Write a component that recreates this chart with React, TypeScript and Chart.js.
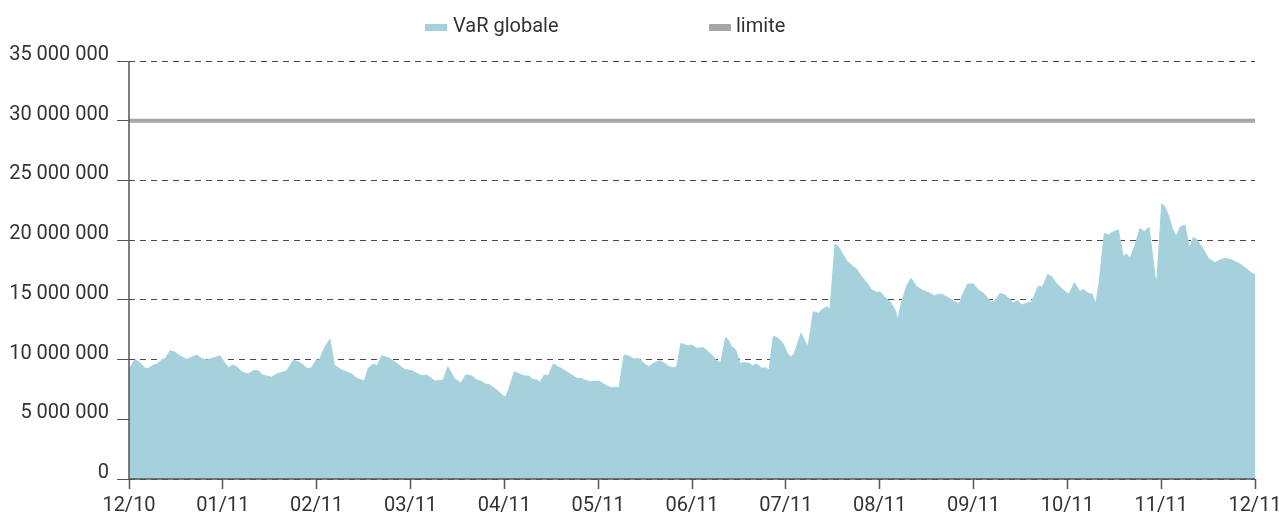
import React, { useEffect, useRef } from "react";
import { Chart, registerables } from "chart.js";

Chart.register(...registerables);

// x positions in months since 12/10 (0 = 12/10, 12 = 12/11)
const monthPos: number[] = [
  0, 0.064, 0.117, 0.171, 0.206, 0.259, 0.295, 0.349, 0.384, 0.437, 0.49, 0.544, 0.615, 0.668, 0.722, 0.775,
  0.828, 0.881, 0.97, 1.023, 1.058, 1.101, 1.148, 1.201, 1.271, 1.325, 1.378, 1.421, 1.521, 1.574, 1.627,
  1.681, 1.751, 1.822, 1.905, 1.947, 2.0, 2.025, 2.081, 2.142, 2.188, 2.267, 2.373, 2.427, 2.508, 2.55,
  2.604, 2.646, 2.693, 2.763, 2.853, 2.934, 3.013, 3.119, 3.173, 3.261, 3.35, 3.397, 3.467, 3.538, 3.588,
  3.652, 3.706, 3.759, 3.802, 3.837, 3.919, 3.989, 4.015, 4.05, 4.106, 4.167, 4.22, 4.263, 4.298, 4.345,
  4.38, 4.426, 4.469, 4.522, 4.575, 4.647, 4.718, 4.771, 4.817, 4.878, 4.931, 5.009, 5.073, 5.126, 5.222,
  5.276, 5.329, 5.375, 5.411, 5.446, 5.492, 5.542, 5.588, 5.659, 5.705, 5.755, 5.801, 5.837, 5.883, 5.926,
  5.961, 5.997, 6.05, 6.121, 6.174, 6.227, 6.263, 6.306, 6.359, 6.387, 6.423, 6.466, 6.512, 6.558, 6.608,
  6.643, 6.69, 6.743, 6.786, 6.821, 6.867, 6.92, 6.973, 7.02, 7.055, 7.091, 7.162, 7.223, 7.24, 7.293,
  7.346, 7.389, 7.436, 7.471, 7.524, 7.559, 7.613, 7.649, 7.719, 7.756, 7.809, 7.862, 7.915, 7.969, 8.004,
  8.057, 8.111, 8.164, 8.193, 8.235, 8.288, 8.334, 8.395, 8.465, 8.537, 8.583, 8.625, 8.678, 8.732, 8.785,
  8.846, 8.892, 8.939, 8.998, 9.052, 9.105, 9.187, 9.222, 9.283, 9.336, 9.425, 9.471, 9.514, 9.567, 9.621,
  9.691, 9.734, 9.791, 9.834, 9.887, 9.957, 10.018, 10.075, 10.135, 10.17, 10.224, 10.266, 10.302, 10.338,
  10.394, 10.437, 10.49, 10.544, 10.597, 10.633, 10.668, 10.722, 10.775, 10.821, 10.871, 10.935, 10.953,
  11.006, 11.034, 11.077, 11.119, 11.159, 11.201, 11.254, 11.3, 11.343, 11.375, 11.45, 11.503, 11.574,
  11.646, 11.688, 11.752, 11.84, 11.906, 11.958, 12.0,
];

// VaR globale, in millions
const varGlobaleM: number[] = [
  9.2, 10.0, 9.74, 9.27, 9.27, 9.54, 9.6, 9.96, 10.05, 10.74, 10.63, 10.3, 10.02, 10.19, 10.38, 10.1,
  9.96, 10.1, 10.32, 9.69, 9.32, 9.54, 9.4, 8.98, 8.79, 9.07, 9.07, 8.71, 8.52, 8.79, 8.93,
  9.04, 9.96, 9.74, 9.24, 9.32, 10.02, 9.91, 10.94, 11.7, 9.54, 9.13, 8.79, 8.43, 8.2, 9.27,
  9.63, 9.49, 10.32, 10.16, 9.69, 9.18, 9.07, 8.65, 8.71, 8.2, 8.29, 9.4, 8.43, 8.01, 8.71,
  8.62, 8.29, 8.15, 7.93, 7.93, 7.45, 6.95, 6.89, 7.59, 8.98, 8.77, 8.62, 8.62, 8.35, 8.29,
  8.1, 8.71, 8.65, 9.63, 9.4, 9.07, 8.71, 8.43, 8.43, 8.23, 8.15, 8.2, 7.87, 7.68, 7.65,
  10.38, 10.3, 10.05, 10.1, 10.02, 9.63, 9.4, 9.69, 9.91, 9.69, 9.4, 9.32, 9.4, 11.36, 11.22,
  11.14, 11.22, 10.94, 11.0, 10.66, 10.24, 9.91, 9.74, 11.86, 11.64, 11.08, 10.8, 9.69, 9.74, 9.69,
  9.49, 9.63, 9.27, 9.32, 9.13, 11.97, 11.78, 11.3, 10.47, 10.19, 10.52, 12.2, 11.22, 11.22, 14.01,
  13.87, 14.21, 14.43, 14.21, 19.68, 19.45, 18.76, 18.28, 17.78, 17.56, 16.94, 16.44, 15.83, 15.64, 15.66,
  15.2, 14.85, 14.15, 13.37, 14.85, 16.16, 16.8, 16.1, 15.77, 15.55, 15.32, 15.49, 15.41, 15.18, 14.93,
  14.65, 15.6, 16.33, 16.33, 15.83, 15.55, 14.85, 14.85, 15.55, 15.41, 14.76, 14.93, 14.57, 14.71, 14.85,
  16.16, 16.05, 17.14, 16.94, 16.33, 15.83, 15.46, 16.44, 15.68, 15.88, 15.55, 15.46, 14.63, 16.38,
  20.57, 20.43, 20.71, 20.85, 18.61, 18.84, 18.48, 19.59, 20.99, 20.71, 21.08, 16.94, 16.52,
  23.03, 22.86, 22.1, 20.99, 20.29, 21.08, 21.27, 19.32, 20.24, 20.07, 19.23, 18.48, 18.11,
  18.4, 18.48, 18.34, 18.0, 17.64, 17.27, 17.08,
];

const limitValue = 30000000;
const monthLabels: string[] = [
  "12/10", "01/11", "02/11", "03/11", "04/11", "05/11", "06/11",
  "07/11", "08/11", "09/11", "10/11", "11/11", "12/11",
];
const seriesNames: string[] = ["VaR globale", "limite"];

const FONT = "Roboto, 'DejaVu Sans', sans-serif";
const AREA_COLOR = "#a5d1dc";
const LIMIT_COLOR = "#a7a7aa";
const TEXT_COLOR = "#333333";

const fmt = (v: number) =>
  String(Math.round(v)).replace(/\B(?=(\d{3})+(?!\d))/g, " ");

const axisLinesPlugin = {
  id: "axisLines",
  afterDatasetsDraw(chart: any) {
    const { ctx, chartArea } = chart;
    ctx.save();
    ctx.strokeStyle = "#555555";
    ctx.lineWidth = 1.5;
    ctx.beginPath();
    ctx.moveTo(chartArea.left, chartArea.top);
    ctx.lineTo(chartArea.left, chartArea.bottom);
    ctx.lineTo(chartArea.right, chartArea.bottom);
    ctx.stroke();
    ctx.restore();
  },
};

export default function App() {
  const ref = useRef<HTMLCanvasElement | null>(null);

  useEffect(() => {
    if (!ref.current) return;
    const varData = monthPos.map((m, i) => ({ x: m, y: varGlobaleM[i] * 1000000 }));
    const limitData = [
      { x: 0, y: limitValue },
      { x: monthLabels.length - 1, y: limitValue },
    ];
    const chart = new Chart(ref.current, {
      type: "line",
      data: {
        datasets: [
          {
            label: seriesNames[0],
            data: varData,
            backgroundColor: AREA_COLOR,
            borderColor: AREA_COLOR,
            borderWidth: 1,
            pointRadius: 0,
            fill: "origin",
            tension: 0,
          },
          {
            label: seriesNames[1],
            data: limitData,
            borderColor: LIMIT_COLOR,
            borderWidth: 4,
            pointRadius: 0,
            fill: false,
          },
        ],
      },
      options: {
        responsive: false,
        animation: false,
        layout: { padding: { top: 61, right: 24, left: 0, bottom: 0 } },
        plugins: { legend: { display: false }, tooltip: { enabled: false } },
        scales: {
          x: {
            type: "linear",
            min: 0,
            max: 12,
            afterFit: (s: any) => {
              s.height = 35;
              s.paddingLeft = 0;
              s.paddingRight = 0;
            },
            afterBuildTicks: (s: any) => {
              s.ticks = monthLabels.map((_, i) => ({ value: i }));
            },
            ticks: {
              autoSkip: false,
              maxRotation: 0,
              padding: 5,
              color: TEXT_COLOR,
              font: { family: FONT, size: 20 },
              callback: (v: any) => monthLabels[Math.round(Number(v))] ?? "",
            },
            grid: {
              drawOnChartArea: false,
              drawTicks: true,
              tickLength: 10,
              tickColor: "#555555",
              tickWidth: 1.5,
            },
            border: { display: false },
          },
          y: {
            min: 0,
            max: 35000000,
            afterFit: (s: any) => {
              s.width = 129;
            },
            ticks: {
              stepSize: 5000000,
              padding: 8,
              labelOffset: -6,
              color: TEXT_COLOR,
              font: { family: FONT, size: 20 },
              callback: (v: any) => fmt(Number(v)),
            },
            grid: {
              color: "#4a4a4a",
              lineWidth: 1,
              drawTicks: true,
              tickLength: 12,
              tickColor: "#555555",
              tickWidth: 1,
              tickBorderDash: [],
            },
            border: { display: false, dash: [6, 5] },
          },
        },
      },
      plugins: [axisLinesPlugin],
    });
    return () => chart.destroy();
  }, []);

  const legendText: React.CSSProperties = {
    position: "absolute",
    top: 15,
    fontFamily: FONT,
    fontSize: 20,
    lineHeight: "20px",
    color: TEXT_COLOR,
    whiteSpace: "nowrap",
  };
  const box: React.CSSProperties = { position: "absolute", top: 24, width: 22, height: 7 };

  return (
    <div style={{ position: "absolute", left: 0, top: 0, width: 1279, height: 514, background: "#fff" }}>
      <canvas ref={ref} width={1279} height={514} style={{ display: "block" }} />
      <div style={{ ...box, left: 425, background: AREA_COLOR }} />
      <div style={{ ...legendText, left: 453 }}>{seriesNames[0]}</div>
      <div style={{ ...box, left: 709, background: LIMIT_COLOR }} />
      <div style={{ ...legendText, left: 736 }}>{seriesNames[1]}</div>
    </div>
  );
}
